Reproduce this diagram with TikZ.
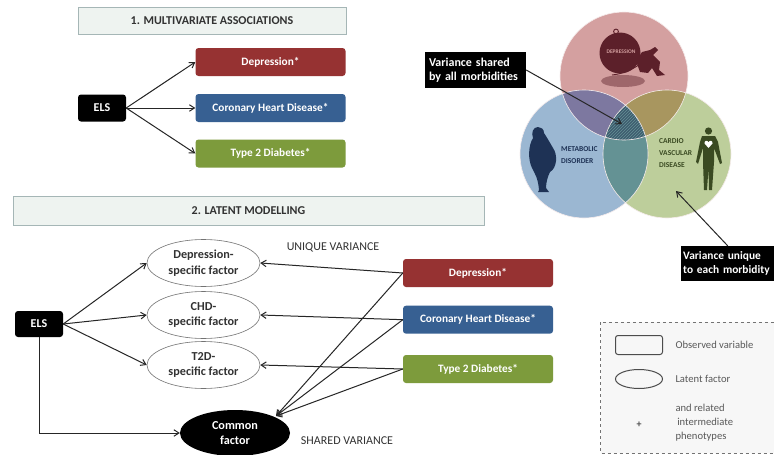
\documentclass[tikz,border=0pt]{standalone}
\usepackage{fontspec}
\setmainfont{Carlito}
\usetikzlibrary{arrows.meta,shapes.geometric,patterns}
\definecolor{cred}{RGB}{150,50,50}
\definecolor{cblue}{RGB}{55,96,146}
\definecolor{cgreen}{RGB}{125,155,60}
\definecolor{vred}{RGB}{212,160,160}
\definecolor{vblue}{RGB}{155,183,210}
\definecolor{vgreen}{RGB}{189,206,155}
\definecolor{ovTL}{RGB}{125,120,160}
\definecolor{ovTR}{RGB}{168,150,95}
\definecolor{ovLR}{RGB}{100,146,148}
\definecolor{ovC}{RGB}{62,92,112}
\definecolor{hdr}{RGB}{238,243,240}
\definecolor{hdrline}{RGB}{165,182,182}
\definecolor{txt}{RGB}{50,50,50}
\definecolor{ballc}{RGB}{92,32,42}
\definecolor{navy}{RGB}{30,50,85}
\definecolor{dgreen}{RGB}{58,74,34}
\tikzset{
 every node/.style={font=\fontsize{11.3}{14}\selectfont\bfseries},
 header/.style={draw=hdrline,fill=hdr,line width=.8pt,text=txt,font=\fontsize{12}{14}\selectfont\bfseries},
 elsbox/.style={fill=black,rounded corners=3pt,text=white,minimum width=48pt,minimum height=27pt,font=\fontsize{12}{14}\selectfont\bfseries},
 varbox/.style={rounded corners=3pt,text=white,minimum width=150pt,minimum height=28pt,inner sep=0pt},
 latent/.style={ellipse,draw=black!55,fill=white,line width=.6pt,minimum width=113pt,minimum height=47pt,inner sep=0pt,align=center,text=txt,font=\fontsize{12.2}{15.5}\selectfont\bfseries},
 conn/.style={-{Straight Barb[length=5pt,width=6.5pt]},line width=1pt,draw=black!85},
 callout/.style={fill=black,text=white,align=left,inner sep=3pt,font=\fontsize{12}{14.5}\selectfont\bfseries},
 plain/.style={font=\fontsize{12}{14}\selectfont,text=txt},
 legendtxt/.style={font=\fontsize{10.6}{14}\selectfont,text=black!65,align=left,anchor=west},
 venntxt/.style={font=\fontsize{7.5}{11.7}\selectfont\bfseries,align=left},
}
\begin{document}
\begin{tikzpicture}[x=1pt,y=-1pt]
\useasboundingbox (0,0) rectangle (774,455);
\fill[white] (0,0) rectangle (774,455);
% ---- Venn diagram
\def\cT{(624,76) circle (64)}
\def\cL{(584,154) circle (64)}
\def\cR{(667,154) circle (64)}
\fill[vred] \cT;
\fill[vblue] \cL;
\fill[vgreen] \cR;
\begin{scope}\clip \cT; \fill[ovTL] \cL; \fill[ovTR] \cR; \end{scope}
\begin{scope}\clip \cL; \fill[ovLR] \cR; \end{scope}
\begin{scope}\clip \cT; \clip \cL; \fill[ovC] \cR;
 \fill[pattern=north east lines,pattern color=ovLR] \cR; \end{scope}
\draw[white!80!vred,line width=.6pt] \cT \cL \cR;
% depression figure
\fill[ballc!45!vred] (623,81) ellipse (22 and 6);
\draw[ballc,line width=.9pt] (616,31.5) circle (2.4);
\fill[ballc] (620,53) circle (20.5);
\draw[ballc,line width=.9pt] (612,75) .. controls (622,74) and (632,70) .. (640,64);
\fill[ballc] (636,61) -- (642,52) -- (650,50) -- (655,47) -- (658,50) -- (653,55) -- (660,62) -- (659,70) -- (665,75) -- (657,76) -- (652,68) -- (648,73) -- (640,72) -- cycle;
\node[font=\fontsize{5.5}{5.5}\selectfont\bfseries,text=vred,inner sep=0pt] (deptag) at (621,52) {DEPRESSION};
% metabolic figure
\fill[navy] (538,127) .. controls (533,127) and (531,133) .. (533,138)
 .. controls (528,146) and (528,160) .. (532,168)
 .. controls (535,174) and (538,178) .. (539,190) -- (538,192) -- (549,192) -- (546,188)
 .. controls (546,182) and (548,176) .. (550,172)
 .. controls (557,168) and (558,155) .. (553,148)
 .. controls (549,141) and (546,136) .. (544,133)
 .. controls (544,129) and (541,127) .. (538,127) -- cycle;
\node[venntxt,text=navy,anchor=west,inner sep=0pt] (metab) at (561,155) {METABOLIC\\DISORDER};
% cardio figure
\fill[dgreen] (708.5,131) circle (3.6);
\fill[dgreen] (702,136) -- (715,136) -- (718,142) -- (722,163) -- (720,164) -- (714,148) -- (714,162) -- (712,190) -- (709,190) -- (708.5,168) -- (707,190) -- (704,190) -- (703,162) -- (703,148) -- (698,164) -- (696,162) -- (700,142) -- cycle;
\fill[white] (708.5,148) -- (704.5,143.5) .. controls (704,140) and (708,140) .. (708.5,142.5) .. controls (709,140) and (713,140) .. (712.5,143.5) -- cycle;
\node[venntxt,text=dgreen,anchor=west,inner sep=0pt] (cardio) at (659,153) {CARDIO\\VASCULAR\\DISEASE};
% ---- Section 1
\node[header,minimum width=268pt,minimum height=27pt] (h1) at (212,20.5) {1. MULTIVARIATE ASSOCIATIONS};
\node[elsbox] (els1) at (102,108) {ELS};
\node[varbox,fill=cred] (d1) at (270.5,62) {Depression*};
\node[varbox,fill=cblue] (c1) at (270.5,108) {Coronary Heart Disease*};
\node[varbox,fill=cgreen] (t1) at (270.5,153.5) {Type 2 Diabetes*};
\draw[conn] (els1.east) -- (d1.west);
\draw[conn] (els1.east) -- (c1.west);
\draw[conn] (els1.east) -- (t1.west);
% ---- Section 2
\node[header,minimum width=471pt,minimum height=29pt] (h2) at (248.5,210.5) {2. LATENT MODELLING};
\node[elsbox,minimum height=26pt] (els2) at (39,324) {ELS};
\node[latent] (ld) at (203.5,263) {Depression-\\specific factor};
\node[latent] (lc) at (203.5,315) {CHD-\\specific factor};
\node[latent] (lt) at (203.5,365) {T2D-\\specific factor};
\node[ellipse,fill=black,text=white,minimum width=110pt,minimum height=46pt,inner sep=0pt,align=center,font=\fontsize{12.2}{15.5}\selectfont\bfseries] (cf) at (235,433) {Common\\factor};
\node[varbox,fill=cred] (d2) at (478,273) {Depression*};
\node[varbox,fill=cblue] (c2) at (478,319.7) {Coronary Heart Disease*};
\node[varbox,fill=cgreen] (t2) at (478,369) {Type 2 Diabetes*};
\node[plain] (uv) at (333,247) {UNIQUE VARIANCE};
\node[plain] (sv) at (347,441) {SHARED VARIANCE};
\draw[conn] (els2.east) -- (ld.west);
\draw[conn] (els2.east) -- (lc.west);
\draw[conn] (els2.east) -- (lt.west);
\draw[conn] (els2.south) |- (cf.west);
\draw[conn] (d2.west) -- (ld.east);
\draw[conn] (c2.west) -- (lc.east);
\draw[conn] (t2.west) -- (lt.east);
\coordinate (cft) at (276,416);
\draw[conn] (d2.west) -- (cft);
\draw[conn] (c2.west) -- (cft);
\draw[conn] (t2.west) -- (cft);
% ---- Callouts
\node[callout,minimum width=101pt,minimum height=36pt,text width=93pt,inner xsep=4pt] (vs) at (475.5,70) {Variance shared\\by all morbidities};
\coordinate (vsend) at (622,124);
\draw[conn] (vs.east) -- (vsend);
\node[callout,anchor=west,minimum width=93pt,minimum height=35pt,text width=89pt,inner xsep=2pt,font=\fontsize{11.4}{14.5}\selectfont\bfseries] (vu) at (681,263.5) {Variance unique\\to each morbidity};
\coordinate (vuend) at (676,191);
\draw[conn] (vu.north) -- (vuend);
% ---- Legend
\draw[dashed,draw=black!55,fill=black!3,line width=.5pt] (600.5,322) rectangle (790,453);
\node[draw=black!70,fill=black!3,rounded corners=2.5pt,line width=1pt,minimum width=47pt,minimum height=19pt,inner sep=0pt] (lg1) at (639,345) {};
\node[ellipse,draw=black!70,fill=black!3,line width=1pt,minimum width=47pt,minimum height=19pt,inner sep=0pt] (lg2) at (639,379) {};
\node[legendtxt] (lt1) at (672,345) {Observed variable};
\node[legendtxt] (lt2) at (672,379) {Latent factor};
\node[legendtxt] (lt3) at (672,423) {and related\\ \,intermediate\\phenotypes};
\node[font=\fontsize{10}{10}\selectfont\bfseries,text=black!70,inner sep=0pt] (lg3) at (639,425) {+};
\end{tikzpicture}
\end{document}
